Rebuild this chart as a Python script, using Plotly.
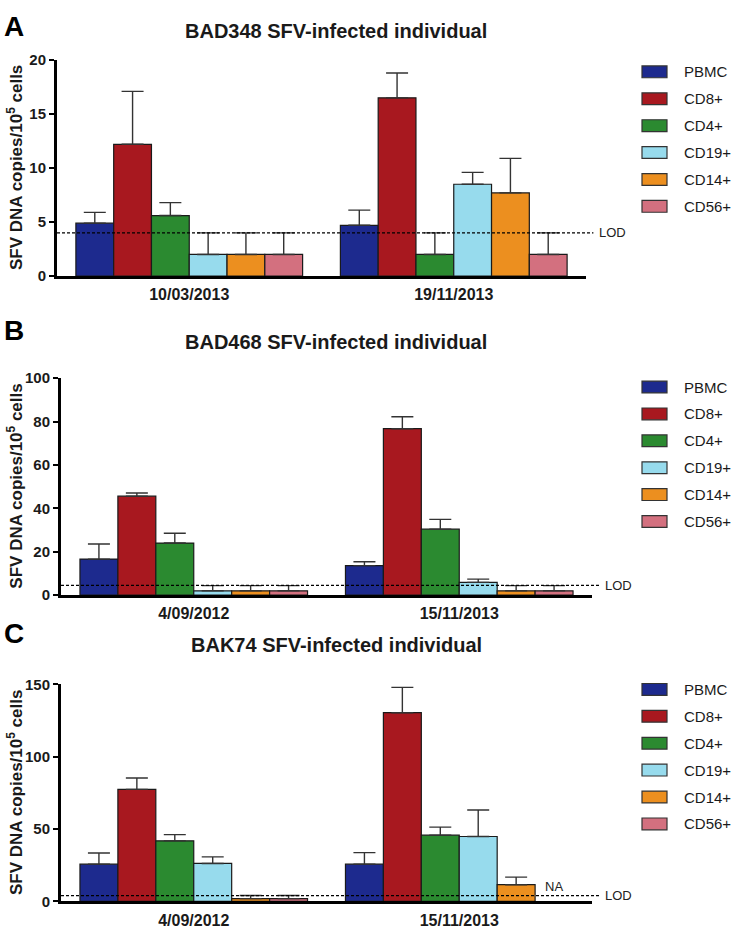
import plotly.graph_objects as go

W, H = 742, 935

cell_types = ["PBMC", "CD8+", "CD4+", "CD19+", "CD14+", "CD56+"]
colors = ["#1d2a8e", "#a8181f", "#2b8a30", "#97dbed", "#ec8f1f", "#d3707f"]

# Panel A
titleA = "BAD348 SFV-infected individual"
datesA = ["10/03/2013", "19/11/2013"]
meanA = {"PBMC": [4.9, 4.7], "CD8+": [12.2, 16.5], "CD4+": [5.6, 2.0],
         "CD19+": [2.0, 8.5], "CD14+": [2.0, 7.7], "CD56+": [2.0, 2.0]}
sdA = {"PBMC": [1.0, 1.4], "CD8+": [4.9, 2.3], "CD4+": [1.2, 2.0],
       "CD19+": [2.0, 1.1], "CD14+": [2.0, 3.2], "CD56+": [2.0, 2.0]}
lodA = 4.0
ticksA = [0, 5, 10, 15, 20]

# Panel B
titleB = "BAD468 SFV-infected individual"
datesB = ["4/09/2012", "15/11/2013"]
meanB = {"PBMC": [16.6, 13.6], "CD8+": [45.6, 76.7], "CD4+": [24.0, 30.4],
         "CD19+": [2.0, 5.9], "CD14+": [2.0, 2.0], "CD56+": [2.0, 2.0]}
sdB = {"PBMC": [7.0, 1.8], "CD8+": [1.5, 5.5], "CD4+": [4.5, 4.5],
       "CD19+": [2.4, 1.5], "CD14+": [2.4, 2.4], "CD56+": [2.4, 2.4]}
lodB = 4.5
ticksB = [0, 20, 40, 60, 80, 100]

# Panel C
titleC = "BAK74 SFV-infected individual"
datesC = ["4/09/2012", "15/11/2013"]
meanC = {"PBMC": [25.8, 25.8], "CD8+": [77.5, 130.5], "CD4+": [41.9, 45.8],
         "CD19+": [26.3, 44.9], "CD14+": [2.0, 11.6], "CD56+": [2.0, None]}
sdC = {"PBMC": [7.7, 8.0], "CD8+": [7.9, 17.5], "CD4+": [4.3, 5.6],
       "CD19+": [4.5, 18.3], "CD14+": [2.1, 5.2], "CD56+": [2.1, None]}
lodC = 4.0
ticksC = [0, 50, 100, 150]

ytitle = "SFV DNA copies/10<sup>5</sup> cells"

FONT = "Liberation Sans, Arial, sans-serif"

# layout geometry in pixels: (x_left, x_right, y_top, y_bottom)
panels = [
    dict(letter="A", title=titleA, dates=datesA, mean=meanA, sd=sdA, lod=lodA, ticks=ticksA,
         px=(57, 586, 52, 272), title_y=22, letter_y=18, legend_y=64, na=None),
    dict(letter="B", title=titleB, dates=datesB, mean=meanB, sd=sdB, lod=lodB, ticks=ticksB,
         px=(61, 592, 376, 597), title_y=339, letter_y=327, legend_y=385, na=None),
    dict(letter="C", title=titleC, dates=datesC, mean=meanC, sd=sdC, lod=lodC, ticks=ticksC,
         px=(61, 592, 688, 909), title_y=648, letter_y=636, legend_y=693, na=(1, "CD56+")),
]

def fx(p):
    return p / W

def fy(p):
    return 1 - p / H

fig = go.Figure()
shapes = []
annotations = []
layout_axes = {}
BARGAP = 1 / 7

for i, pn in enumerate(panels):
    k = "" if i == 0 else str(i + 1)
    xa, ya = "x" + k, "y" + k
    xl, xr, yt, yb = pn["px"]
    for ct, col in zip(cell_types, colors):
        vals = pn["mean"][ct]
        sds = pn["sd"][ct]
        fig.add_trace(go.Bar(
            x=pn["dates"], y=vals, name=ct, showlegend=False,
            xaxis=xa, yaxis=ya,
            marker=dict(color=col, line=dict(color="#1a1a1a", width=1.2)),
            error_y=dict(type="data", symmetric=False, array=sds,
                         arrayminus=[0 if s is not None else None for s in sds],
                         color="#333333", thickness=1.4, width=11),
        ))
    ymax = pn["ticks"][-1]
    layout_axes["xaxis" + k] = dict(
        domain=[fx(xl), fx(xr)], anchor=ya, type="category",
        showline=True, linewidth=3, linecolor="black", ticks="",
        tickfont=dict(family=FONT, size=16, color="#1a1a1a", weight="bold"),
        ticklabelstandoff=2, showgrid=False, zeroline=False, fixedrange=True,
    )
    layout_axes["yaxis" + k] = dict(
        domain=[fy(yb), fy(yt)], anchor=xa, range=[0, ymax],
        tickvals=pn["ticks"], ticktext=[str(t) for t in pn["ticks"]],
        showline=True, linewidth=3, linecolor="black",
        ticks="outside", ticklen=5, tickwidth=2, tickcolor="black",
        tickfont=dict(family=FONT, size=15, color="#1a1a1a", weight="bold"),
        showgrid=False, zeroline=False, fixedrange=True,
    )
    # LOD line
    shapes.append(dict(type="line", xref=xa + " domain", yref=ya,
                       x0=0, x1=1.014, y0=pn["lod"], y1=pn["lod"],
                       line=dict(color="black", width=1.3, dash="3px,2px")))
    annotations.append(dict(text="LOD", xref=xa + " domain", yref=ya,
                            x=1.02, y=pn["lod"], xanchor="left", yanchor="middle",
                            showarrow=False,
                            font=dict(family=FONT, size=13, color="#222")))
    if pn["na"] is not None:
        gi, ct = pn["na"]
        j = cell_types.index(ct)
        bw = (1 - BARGAP) / len(cell_types)
        xpos = gi - (1 - BARGAP) / 2 + bw * (j + 0.5)
        annotations.append(dict(text="NA", xref=xa, yref=ya, x=xpos, y=pn["lod"],
                                xanchor="center", yanchor="bottom", showarrow=False,
                                font=dict(family=FONT, size=13, color="#222")))
    # title
    annotations.append(dict(text="<b>" + pn["title"] + "</b>", xref="paper", yref="paper",
                            x=fx(336), y=fy(pn["title_y"]), xanchor="center", yanchor="middle",
                            showarrow=False,
                            font=dict(family=FONT, size=20, color="#1a1a1a")))
    # panel letter
    annotations.append(dict(text="<b>" + pn["letter"] + "</b>", xref="paper", yref="paper",
                            x=fx(2), y=fy(pn["letter_y"]), xanchor="left", yanchor="middle",
                            showarrow=False,
                            font=dict(family=FONT, size=28, color="black")))
    # y axis title
    annotations.append(dict(text="<b>" + ytitle + "</b>", xref="paper", yref="paper",
                            x=fx(15), y=fy((yt + yb) / 2), xanchor="center", yanchor="middle",
                            textangle=-90, showarrow=False,
                            font=dict(family=FONT, size=17, color="#1a1a1a")))
    # legend
    for r, (ct, col) in enumerate(zip(cell_types, colors)):
        cy = pn["legend_y"] + r * 27.4
        shapes.append(dict(type="rect", xref="paper", yref="paper",
                           x0=fx(642), x1=fx(667), y0=fy(cy + 6), y1=fy(cy - 6),
                           fillcolor=col, line=dict(color="#333", width=1.2)))
        annotations.append(dict(text=ct, xref="paper", yref="paper",
                                x=fx(682), y=fy(cy), xanchor="left", yanchor="middle",
                                showarrow=False,
                                font=dict(family=FONT, size=15, color="#1a1a1a")))

fig.update_layout(
    width=W, height=H, margin=dict(l=0, r=0, t=0, b=0),
    paper_bgcolor="white", plot_bgcolor="white",
    barmode="group", bargap=BARGAP, bargroupgap=0,
    showlegend=False, shapes=shapes, annotations=annotations,
    **layout_axes,
)

fig.write_html("out.html",
               config={"displayModeBar": False, "staticPlot": True},
               post_script="document.body.style.margin='0';document.body.style.overflow='hidden';")
